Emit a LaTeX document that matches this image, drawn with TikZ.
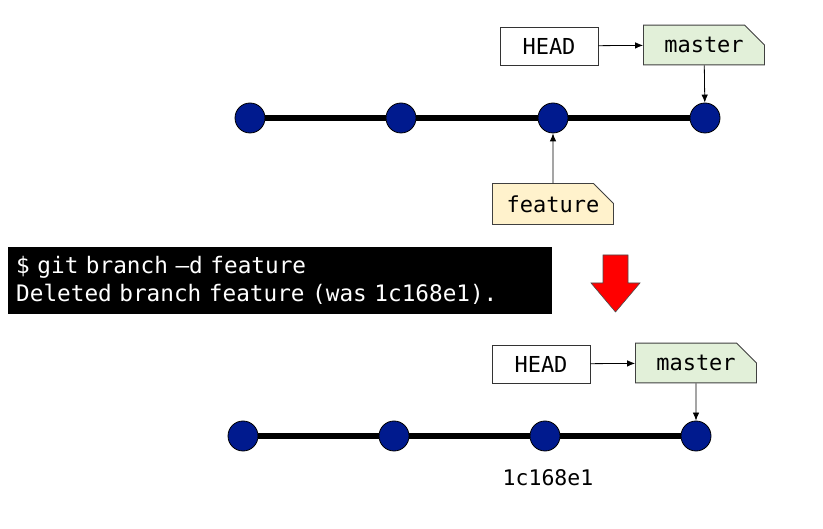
\documentclass[tikz,border=0pt]{standalone}
\usepackage{fontspec}
\setmonofont{DejaVu Sans Mono}
\usepackage{xcolor}
\usetikzlibrary{positioning,shapes.misc,arrows.meta}

\definecolor{commitblue}{HTML}{001A8E}
\definecolor{masterfill}{HTML}{E2F0D9}
\definecolor{featurefill}{HTML}{FFF2CC}

% monospace with a full-width space
\newcommand{\termfont}{\ttfamily\fontsize{22.7}{28}\selectfont
  \fontdimen2\font=0.602em\fontdimen3\font=0pt\fontdimen4\font=0pt}

\tikzset{
  commit/.style={circle,fill=commitblue,draw=black,line width=0.8pt,minimum size=30pt,inner sep=0pt},
  history/.style={line width=6pt},
  reftag/.style={chamfered rectangle,chamfered rectangle corners=north east,
    chamfered rectangle xsep=10pt,chamfered rectangle ysep=10pt,
    draw=black!75,line width=0.8pt,minimum width=121pt,minimum height=36pt,
    inner sep=2pt,font=\ttfamily\fontsize{22}{26}\selectfont},
  headbox/.style={draw=black!80,fill=white,line width=0.8pt,minimum width=98pt,
    minimum height=38pt,inner sep=2pt,font=\ttfamily\fontsize{22}{26}\selectfont},
  pointer/.style={-{Latex[length=8pt,width=6.5pt]},line width=0.8pt},
}

\begin{document}
\begin{tikzpicture}[x=1pt,y=-1pt]
  \useasboundingbox (0,0) rectangle (823,529);

  % before: history with two branches
  \node[commit] (a1) at (250,118) {};
  \node[commit] (a2) at (401,118) {};
  \node[commit] (a3) at (553,118) {};
  \node[commit] (a4) at (705,118) {};
  \draw[history] (a1) -- (a2);
  \draw[history] (a2) -- (a3);
  \draw[history] (a3) -- (a4);

  \node[headbox] (head1) at (549,46) {HEAD};
  \node[reftag,fill=masterfill] (master1) at (704,45) {master};
  \node[reftag,fill=featurefill] (feature) at (553,204) {feature};
  \draw[pointer] (head1) -- (master1);
  \draw[pointer] (master1) -- (a4);
  \draw[pointer] (feature) -- (a3);

  % command
  \node[fill=black,text=white,anchor=north west,text width=528pt,
    minimum height=67pt,inner xsep=8pt,inner ysep=4pt,align=left,
    font=\termfont] (term) at (8,247)
    {\$ git branch –d feature\\Deleted branch feature (was 1c168e1).};

  \fill[red,draw=black!70,line width=0.6pt]
    (603,255) -- (628,255) -- (628,283) -- (640,283) -- (615.5,312)
    -- (591,283) -- (603,283) -- cycle;

  % after: feature is gone
  \node[commit] (b1) at (243,436) {};
  \node[commit] (b2) at (394,436) {};
  \node[commit] (b3) at (545,436) {};
  \node[commit] (b4) at (696,436) {};
  \draw[history] (b1) -- (b2);
  \draw[history] (b2) -- (b3);
  \draw[history] (b3) -- (b4);

  \node[headbox] (head2) at (541,364) {HEAD};
  \node[reftag,fill=masterfill] (master2) at (696,363) {master};
  \draw[pointer] (head2) -- (master2);
  \draw[pointer] (master2) -- (b4);

  \node[font=\ttfamily\fontsize{21.5}{24}\selectfont] (hash) at (548,478) {1c168e1};
\end{tikzpicture}
\end{document}
